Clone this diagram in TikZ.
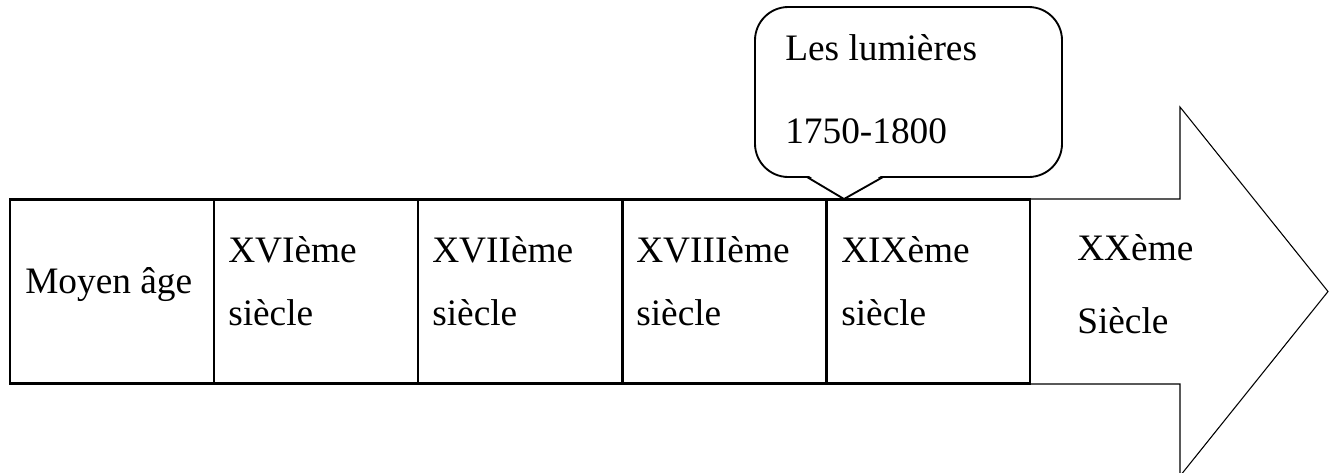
\documentclass[tikz,border=0pt]{standalone}
\usepackage{fontspec}
\setmainfont{Liberation Serif}
\begin{document}
\begin{tikzpicture}[x=0.75pt,y=-0.75pt,
  cell/.style={draw=black,line width=1.9pt,minimum width=204*0.75pt,minimum height=184*0.75pt,inner sep=0pt,outer sep=0pt},
  txt/.style={anchor=base west,inner sep=0pt,font=\fontsize{28}{34}\selectfont},
  bigarrow/.style={draw=black,line width=0.8pt,fill=white},
  callout/.style={draw=black,line width=1.4pt,rounded corners=25pt,minimum width=307*0.75pt,minimum height=170*0.75pt,inner sep=0pt}]
\useasboundingbox (0,0) rectangle (1334,472);
% big arrow
\draw[bigarrow] (1030,199) -- (1180,199) -- (1180,107) -- (1328,291.5) -- (1180,476) -- (1180,384) -- (1030,384);
% table cells
\node[cell] (c1) at (112,291.5) {};
\node[cell] (c2) at (316,291.5) {};
\node[cell] (c3) at (520,291.5) {};
\node[cell] (c4) at (724.5,291.5) {};
\node[cell,minimum width=203*0.75pt] (c5) at (928.5,291.5) {};
% callout
\node[callout] (co) at (908.5,92) {};
\fill[white] (806,174) -- (884,174) -- (844,198) -- cycle;
\draw[line width=1.4pt,line join=round] (807,177) -- (844,199) -- (883,177);
% texts
\node[txt] (t1) at (25,293) {Moyen âge};
\node[txt] (t2a) at (228,262) {XVIème};
\node[txt] (t2b) at (228,325) {siècle};
\node[txt] (t3a) at (432,262) {XVIIème};
\node[txt] (t3b) at (432,325) {siècle};
\node[txt] (t4a) at (636,262) {XVIIIème};
\node[txt] (t4b) at (636,325) {siècle};
\node[txt] (t5a) at (841,262) {XIXème};
\node[txt] (t5b) at (841,325) {siècle};
\node[txt] (t6a) at (1077,260) {XXème};
\node[txt] (t6b) at (1077,333) {Siècle};
\node[txt] (l1) at (785,60) {Les lumières};
\node[txt] (l2) at (785,143) {1750-1800};
\end{tikzpicture}
\end{document}
